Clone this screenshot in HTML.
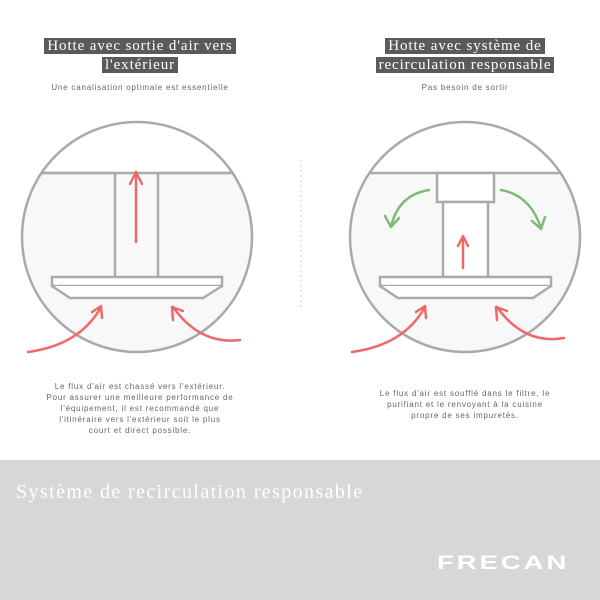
<!DOCTYPE html>
<html><head><style>
body{margin:0;width:600px;height:600px;background:#fff;position:relative;overflow:hidden;font-family:"Liberation Sans",sans-serif}
.h{position:absolute;text-align:center;font-family:"Liberation Serif",serif;font-size:15px;line-height:19px;color:#fff;letter-spacing:0.9px}
.h span{background:#5a5a5a;padding:0 3px}
.s{position:absolute;text-align:center;font-size:8px;color:#666;line-height:11px;letter-spacing:0.8px}
</style></head><body>
<div class="h" style="left:0;width:280px;top:37px"><span>Hotte avec sortie d'air vers</span><br><span>l'extérieur</span></div>
<div class="h" style="left:325px;width:280px;top:37px"><span>Hotte avec système de</span><br><span>recirculation responsable</span></div>
<div class="s" style="left:0;width:280px;top:82px">Une canalisation optimale est essentielle</div>
<div class="s" style="left:325px;width:280px;top:82px">Pas besoin de sortir</div>
<svg width="600" height="460" style="position:absolute;left:0;top:0">
<defs>
<clipPath id="c1"><circle cx="137" cy="237" r="115"/></clipPath>
<clipPath id="c2"><circle cx="465" cy="237" r="115"/></clipPath>
</defs>
<g fill="none" stroke="#aaa" stroke-width="2.5">
<rect x="0" y="173" width="600" height="200" fill="#f8f8f8" stroke="none" clip-path="url(#c1)"/>
<line x1="0" y1="173" x2="600" y2="173" clip-path="url(#c1)"/>
<path d="M42 173H115V277M158 277V173H232" />
<rect x="52" y="277" width="170" height="9" fill="#fff"/>
<path d="M52 286L70 298H203L222 286" fill="#fff"/>
<circle cx="137" cy="237" r="115"/>

<rect x="0" y="173" width="600" height="200" fill="#f8f8f8" stroke="none" clip-path="url(#c2)"/>
<line x1="0" y1="173" x2="600" y2="173" clip-path="url(#c2)"/>
<rect x="437" y="173" width="57" height="29" fill="#fff"/>
<rect x="443" y="202" width="45" height="75" fill="#fff"/>
<rect x="380" y="277" width="171" height="9" fill="#fff"/>
<path d="M380 286L398 298H533L551 286" fill="#fff"/>
<circle cx="465" cy="237" r="115"/>
</g>
<line x1="301" y1="160" x2="301" y2="310" stroke="#ccc" stroke-dasharray="2,3"/>
<g fill="none" stroke="#ee6a6a" stroke-width="2.5" stroke-linecap="round" stroke-linejoin="round">
<path d="M136 242V172M130 184L136 172L142 184"/>
<path d="M28 352Q80 345 101 307M92 312L101 306L102 318"/>
<path d="M240 340Q200 345 173 307M173 320L172 307L183 311"/>
<path d="M463 268V237M458 246L463 236L468 246"/>
<path d="M352 352Q404 345 425 307M416 312L425 306L426 318"/>
<path d="M564 338Q524 345 497 307M497 320L496 307L507 311"/>
</g>
<g fill="none" stroke="#7dbb78" stroke-width="2.5" stroke-linecap="round" stroke-linejoin="round">
<path d="M429 190Q398 195 391 227M385 216L391 227L399 218"/>
<path d="M501 190Q530 195 541 228M532 221L541 229L545 217"/>
</g>
</svg>
<div class="s" style="left:20px;width:240px;top:381px">Le flux d'air est chassé vers l'extérieur.<br>Pour assurer une meilleure performance de<br>l'équipement, il est recommandé que<br>l'itinéraire vers l'extérieur soit le plus<br>court et direct possible.</div>
<div class="s" style="left:345px;width:240px;top:388px">Le flux d'air est soufflé dans le filtre, le<br>purifiant et le renvoyant à la cuisine<br>propre de ses impuretés.</div>
<div style="position:absolute;left:0;top:460px;width:600px;height:140px;background:#d7d7d7"></div>
<div style="position:absolute;left:16px;top:481px;font-family:'Liberation Sans',serif;font-family:'Liberation Serif',serif;font-size:20px;letter-spacing:1.4px;color:#fff">Système de recirculation responsable</div>
<div style="position:absolute;left:437px;top:553px;font-size:19px;font-weight:bold;color:#fff;letter-spacing:2px;transform:scaleX(1.45);transform-origin:left center">FRECAN</div>
</body></html>
